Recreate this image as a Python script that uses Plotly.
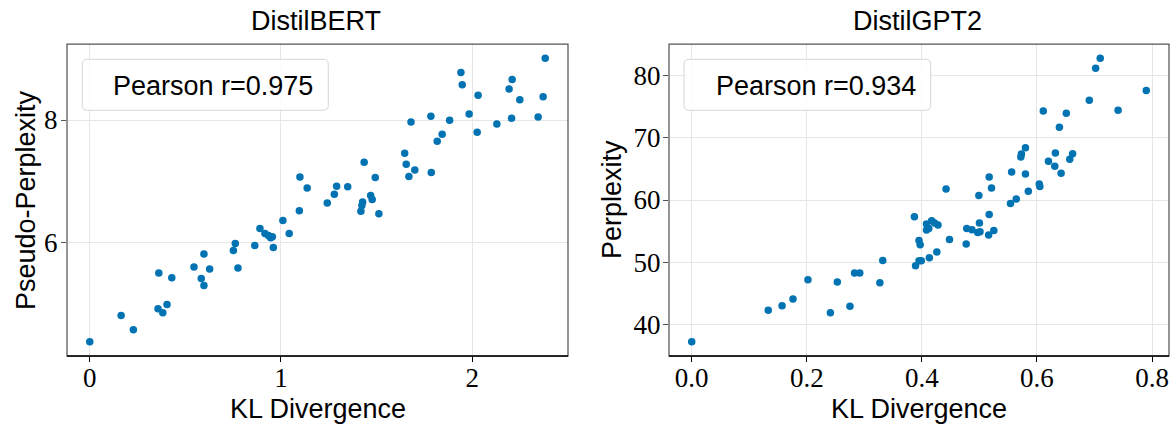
import plotly.graph_objects as go

W, H = 1175, 427

# ---------------- data ----------------
bert_kl = [0.000, 0.164, 0.228, 0.357, 0.382, 0.404, 0.361, 0.429, 0.545, 0.597,
           0.627, 0.583, 0.597, 0.751, 0.761, 0.775, 0.863, 0.890, 0.916, 0.934,
           0.946, 0.955, 0.960, 1.010, 1.043, 1.096, 1.099, 1.137, 1.242, 1.279,
           1.291, 1.349, 1.418, 1.423, 1.427, 1.435, 1.469, 1.477, 1.493, 1.512,
           1.647, 1.655, 1.669, 1.700, 1.680, 1.784, 1.786, 1.817, 1.843, 1.882,
           1.941, 1.948, 1.984, 2.026, 2.031, 2.129, 2.193, 2.206, 2.209, 2.249,
           2.345, 2.371, 2.382]
bert_ppl = [4.385, 4.813, 4.580, 4.922, 4.857, 4.992, 5.507, 5.431, 5.605, 5.816,
            5.572, 5.415, 5.301, 5.875, 5.989, 5.589, 5.956, 6.233, 6.151, 6.119,
            6.081, 6.098, 5.924, 6.363, 6.151, 6.520, 7.073, 6.894, 6.646, 6.789,
            6.922, 6.911, 6.515, 6.607, 6.662, 7.312, 6.769, 6.704, 7.062, 6.472,
            7.459, 7.280, 7.078, 7.187, 7.967, 8.060, 7.143, 7.654, 7.767, 7.995,
            8.776, 8.574, 8.098, 7.800, 8.402, 7.935, 8.504, 8.028, 8.662, 8.330,
            8.049, 8.379, 9.008]

gpt_kl = [0.000, 0.133, 0.157, 0.176, 0.202, 0.241, 0.275, 0.253, 0.283, 0.292,
          0.327, 0.332, 0.387, 0.389, 0.395, 0.399, 0.395, 0.397, 0.413, 0.426,
          0.408, 0.417, 0.422, 0.428, 0.408, 0.412, 0.448, 0.477, 0.478, 0.487,
          0.497, 0.501, 0.500, 0.517, 0.516, 0.525, 0.554, 0.564, 0.585, 0.604,
          0.605, 0.442, 0.499, 0.521, 0.517, 0.556, 0.580, 0.580, 0.573, 0.572,
          0.620, 0.632, 0.631, 0.642, 0.657, 0.662, 0.639, 0.611, 0.651, 0.691,
          0.741, 0.790, 0.702, 0.710]
gpt_ppl = [37.28, 42.33, 43.04, 44.15, 47.24, 41.92, 42.97, 46.87, 48.31, 48.31,
           46.76, 50.32, 57.31, 49.48, 50.28, 50.28, 53.52, 52.83, 50.76, 51.67,
           56.14, 56.67, 56.30, 55.98, 55.18, 55.44, 53.68, 52.94, 55.44, 55.23,
           54.80, 54.91, 56.30, 57.67, 54.38, 55.12, 59.43, 60.18, 61.41, 62.58,
           62.15, 61.78, 60.71, 61.94, 63.70, 64.50, 64.18, 68.38, 67.38, 66.90,
           66.21, 67.53, 65.41, 64.29, 66.53, 67.42, 71.64, 74.25, 73.88, 76.00,
           74.36, 77.55, 81.12, 82.72]

panel_titles = ["DistilBERT", "DistilGPT2"]
x_titles = ["KL Divergence", "KL Divergence"]
y_titles = ["Pseudo-Perplexity", "Perplexity"]
pearson_labels = ["Pearson r=0.975", "Pearson r=0.934"]

# ---------------- styling ----------------
BLUE = "#0173b2"
SANS = "Liberation Sans, Arial, sans-serif"
SERIF = "Liberation Serif, Times New Roman, serif"
GRID = "#e6e6e6"
FRAME = "#555555"

def px(x):
    return x / W

def py(y):
    return 1 - y / H

fig = go.Figure()
fig.add_trace(go.Scatter(x=bert_kl, y=bert_ppl, mode="markers", xaxis="x", yaxis="y",
                         marker=dict(color=BLUE, size=7.5, line=dict(width=0)),
                         showlegend=False))
fig.add_trace(go.Scatter(x=gpt_kl, y=gpt_ppl, mode="markers", xaxis="x2", yaxis="y2",
                         marker=dict(color=BLUE, size=7.5, line=dict(width=0)),
                         showlegend=False))

# axes pixel boxes
L = dict(x0=67, x1=568)
R = dict(x0=669, x1=1169)
TOP, BOT = 44, 356

def pad_range(vals, frac=0.05):
    lo, hi = min(vals), max(vals)
    d = hi - lo
    return [lo - frac * d, hi + frac * d]

axis_common = dict(showgrid=True, gridcolor=GRID, gridwidth=1, zeroline=False,
                   ticks="outside", ticklen=5, tickwidth=1.2,
                   tickfont=dict(family=SERIF, size=27, color="black"),
                   showline=False)

fig.update_layout(
    width=W, height=H,
    margin=dict(l=0, r=0, t=0, b=0),
    paper_bgcolor="white", plot_bgcolor="white",
    showlegend=False,
    xaxis=dict(domain=[px(L["x0"]), px(L["x1"])], anchor="y",
               range=pad_range(bert_kl), tick0=0, dtick=1, tickcolor="black",
               ticklabelstandoff=-7, **axis_common),
    yaxis=dict(domain=[py(BOT), py(TOP)], anchor="x",
               range=pad_range(bert_ppl), tick0=0, dtick=2, tickcolor=FRAME,
               ticklabelstandoff=-2, **axis_common),
    xaxis2=dict(domain=[px(R["x0"]), px(R["x1"])], anchor="y2",
                range=pad_range(gpt_kl), tick0=0, dtick=0.2, tickformat=".1f",
                tickcolor="black", ticklabelstandoff=-7, **axis_common),
    yaxis2=dict(domain=[py(BOT), py(TOP)], anchor="x2",
                range=pad_range(gpt_ppl), tick0=0, dtick=10, tickcolor=FRAME,
                ticklabelstandoff=-3, **axis_common),
)

shapes = []
annotations = []

def rounded_rect(x0, y0, x1, y1, r=5):
    rx, ry = r / W, r / H
    X0, X1 = px(x0), px(x1)
    Yt, Yb = py(y0), py(y1)
    return (f"M {X0+rx},{Yt} L {X1-rx},{Yt} Q {X1},{Yt} {X1},{Yt-ry} "
            f"L {X1},{Yb+ry} Q {X1},{Yb} {X1-rx},{Yb} "
            f"L {X0+rx},{Yb} Q {X0},{Yb} {X0},{Yb+ry} "
            f"L {X0},{Yt-ry} Q {X0},{Yt} {X0+rx},{Yt} Z")

panels = [
    dict(xr="x", yr="y", box=L, leg=(82.3, 59.3, 328.3, 110.3), ytitle_x=26),
    dict(xr="x2", yr="y2", box=R, leg=(684.0, 59.3, 930.7, 110.3), ytitle_x=612),
]

for i, p in enumerate(panels):
    # frame
    shapes.append(dict(type="rect", xref=f"{p['xr']} domain", yref=f"{p['yr']} domain",
                       x0=0, x1=1, y0=0, y1=1, line=dict(color=FRAME, width=1.25),
                       fillcolor="rgba(0,0,0,0)", layer="above"))
    shapes.append(dict(type="line", xref=f"{p['xr']} domain", yref=f"{p['yr']} domain",
                       x0=0, x1=1, y0=0, y1=0, line=dict(color="black", width=1.5),
                       layer="above"))
    # legend-like box
    lx0, ly0, lx1, ly1 = p["leg"]
    shapes.append(dict(type="path", xref="paper", yref="paper",
                       path=rounded_rect(lx0, ly0, lx1, ly1),
                       line=dict(color="#d6d6d6", width=1),
                       fillcolor="rgba(255,255,255,0.85)", layer="above"))
    cx = (p["box"]["x0"] + p["box"]["x1"]) / 2
    annotations.append(dict(text=pearson_labels[i], xref="paper", yref="paper",
                            x=px(lx1 - 13), y=py((ly0 + ly1) / 2 + 1),
                            xanchor="right", yanchor="middle", showarrow=False,
                            font=dict(family=SANS, size=27, color="black")))
    # titles
    annotations.append(dict(text=panel_titles[i], xref="paper", yref="paper",
                            x=px(cx - 2), y=py(21), xanchor="center", yanchor="middle",
                            showarrow=False, font=dict(family=SANS, size=27, color="black")))
    annotations.append(dict(text=x_titles[i], xref="paper", yref="paper",
                            x=px(cx), y=py(409), xanchor="center", yanchor="middle",
                            showarrow=False, font=dict(family=SANS, size=27, color="black")))
    annotations.append(dict(text=y_titles[i], xref="paper", yref="paper",
                            x=px(p["ytitle_x"]), y=py(200), xanchor="center",
                            yanchor="middle", textangle=-90, showarrow=False,
                            font=dict(family=SANS, size=27, color="black")))

fig.update_layout(shapes=shapes, annotations=annotations)
fig.write_html("out.html", config={"displayModeBar": False},
               post_script="document.body.style.margin='0px';")
